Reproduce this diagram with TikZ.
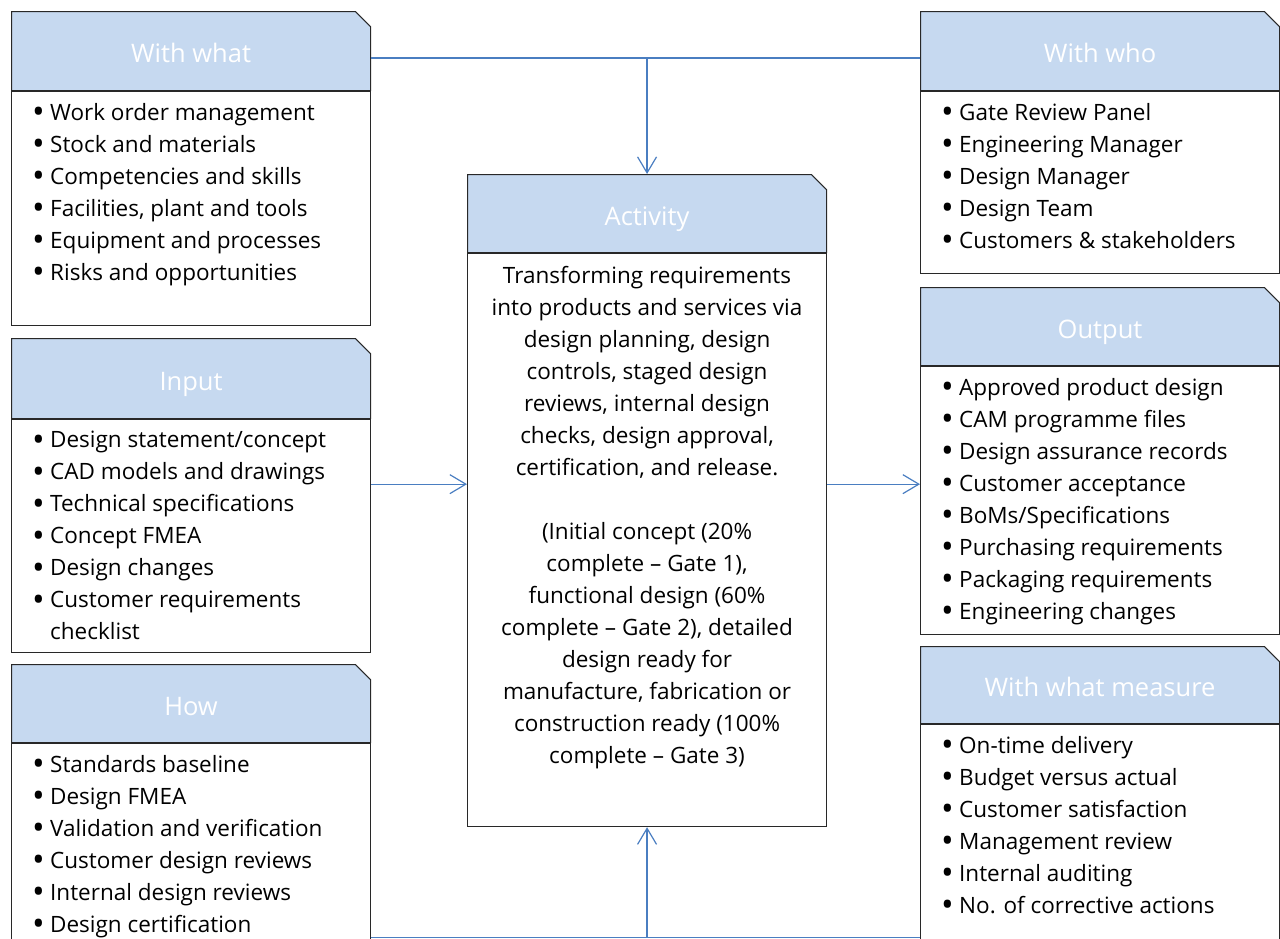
\documentclass[tikz,border=0pt]{standalone}
\usepackage{fontspec}
\setmainfont{Open Sans}
\usetikzlibrary{arrows.meta,positioning,shapes.misc}
\definecolor{hdblue}{RGB}{198,217,240}
\definecolor{lnblue}{RGB}{74,126,193}
\definecolor{edgegray}{RGB}{40,40,40}
\newcommand{\bl}{\makebox[18pt][l]{\raisebox{-3.4pt}{\scalebox{1.5}{•}}}}
\newcommand{\bi}{\hspace*{18pt}}

\begin{document}
\begin{tikzpicture}[x=1pt,y=-1pt]
\tikzset{every node/.style={inner sep=0pt,font=\fontsize{22.5}{32}\selectfont}}
\tikzset{box/.style={chamfered rectangle,chamfered rectangle corners=north east,chamfered rectangle xsep=12pt,draw=edgegray,line width=1.1pt,minimum width=359pt}}
\tikzset{hd/.style={box,fill=hdblue,text=white,font=\fontsize{25.5}{32}\selectfont,text height=23pt,text depth=0pt}}
\tikzset{bd/.style={box,fill=white}}
\tikzset{lst/.style={anchor=north west,align=left}}
\tikzset{conn/.style={draw=lnblue,line width=1.2pt}}
\tikzset{tip/.style={conn,-{Straight Barb[length=16pt,width=19pt]}}}

\clip (0,0) rectangle (1280,938);

\node[hd,minimum height=79pt,anchor=north west] (whathd) at (11,11) {With what};
\node[bd,minimum height=234pt,below=0pt of whathd] (whatbd) {};
\node[hd,minimum height=80pt,anchor=north west] (inhd) at (11,338) {Input};
\node[bd,minimum height=233pt,below=0pt of inhd] (inbd) {};
\node[hd,minimum height=78pt,anchor=north west] (howhd) at (11,664) {How};
\node[bd,minimum height=260pt,below=0pt of howhd] (howbd) {};
\node[hd,minimum height=78pt,anchor=north west] (acthd) at (467,174) {Activity};
\node[bd,minimum height=573pt,below=0pt of acthd] (actbd) {};
\node[hd,minimum height=79pt,anchor=north west] (whohd) at (920,11) {With who};
\node[bd,minimum height=182pt,below=0pt of whohd] (whobd) {};
\node[hd,minimum height=78pt,anchor=north west] (outhd) at (920,287) {Output};
\node[bd,minimum height=268pt,below=0pt of outhd] (outbd) {};
\node[hd,minimum height=77pt,anchor=north west] (meashd) at (920,646) {With what measure};
\node[bd,minimum height=260pt,below=0pt of meashd] (measbd) {};

\node[lst] (whatls) at ([xshift=21pt,yshift=-12pt]whatbd.north west) {\bl Work order management\\ \bl Stock and materials\\ \bl Competencies and skills\\ \bl Facilities, plant and tools\\ \bl Equipment and processes\\ \bl Risks and opportunities};
\node[lst] (inls) at ([xshift=21pt,yshift=-12pt]inbd.north west) {\bl Design statement/concept\\ \bl CAD models and drawings\\ \bl Technical specifications\\ \bl Concept FMEA\\ \bl Design changes\\ \bl Customer requirements\\ \bi checklist};
\node[lst] (howls) at ([xshift=21pt,yshift=-12pt]howbd.north west) {\bl Standards baseline\\ \bl Design FMEA\\ \bl Validation and verification\\ \bl Customer design reviews\\ \bl Internal design reviews\\ \bl Design certification};
\node[lst] (whols) at ([xshift=21pt,yshift=-12pt]whobd.north west) {\bl Gate Review Panel\\ \bl Engineering Manager\\ \bl Design Manager\\ \bl Design Team\\ \bl Customers \& stakeholders};
\node[lst] (outls) at ([xshift=21pt,yshift=-12pt]outbd.north west) {\bl Approved product design\\ \bl CAM programme files\\ \bl Design assurance records\\ \bl Customer acceptance\\ \bl BoMs/Specifications\\ \bl Purchasing requirements\\ \bl Packaging requirements\\ \bl Engineering changes};
\node[lst] (measls) at ([xshift=21pt,yshift=-12pt]measbd.north west) {\bl On-time delivery\\ \bl Budget versus actual\\ \bl Customer satisfaction\\ \bl Management review\\ \bl Internal auditing\\ \bl No. of corrective actions};
\node[anchor=north,align=center] (actls) at ([yshift=-13pt]actbd.north) {Transforming requirements\\ into products and services via\\ design planning, design\\ controls, staged design\\ reviews, internal design\\ checks, design approval,\\ certification, and release.\\[32pt] (Initial concept (20\%\\ complete – Gate 1),\\ functional design (60\%\\ complete – Gate 2), detailed\\ design ready for\\ manufacture, fabrication or\\ construction ready (100\%\\ complete – Gate 3)};

\coordinate (tl) at ([yshift=-7pt]whathd.east);
\coordinate (il) at ([yshift=52pt]inbd.east);
\coordinate (bl) at ([yshift=-194pt]howbd.north -| howbd.east);
\draw[conn] (tl) -- (whohd.west |- tl);
\draw[tip] (acthd.north |- tl) -- (acthd.north);
\draw[tip] (il) -- (actbd.west |- il);
\draw[tip] (actbd.east |- il) -- (outbd.west |- il);
\draw[conn] (bl) -- (measbd.west |- bl);
\draw[tip] (actbd.south |- bl) -- (actbd.south);
\end{tikzpicture}
\end{document}
